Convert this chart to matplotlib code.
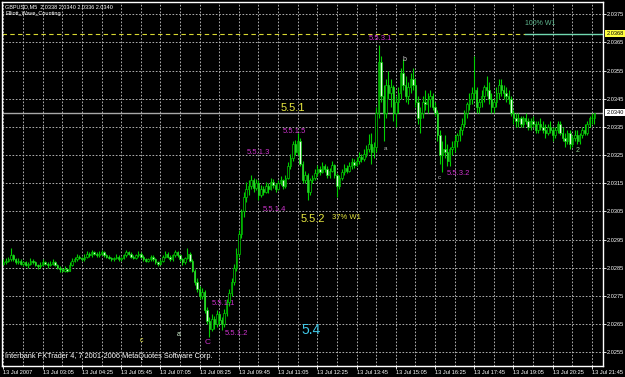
import matplotlib
matplotlib.use('Agg')
import matplotlib.pyplot as plt
import matplotlib.transforms as mtransforms
import numpy as np

plt.rcParams['font.family'] = ['Liberation Sans', 'DejaVu Sans']

# GBPUSD M5, prices given as pips above base
base = 2.0250
opens = [36.5, 37, 37.5, 38, 39.5, 38, 37, 37.5, 36.5, 37,
         36, 36.5, 37.5, 37, 36, 35.5, 36, 37, 36.5, 36,
         36.5, 37, 36, 35, 34.5, 34, 34.5, 34, 36, 37.5,
         38, 39, 38.5, 38, 39, 40, 39.5, 40.5, 40, 39.5,
         40, 40.5, 39.5, 39, 38.5, 38, 38.5, 39, 38, 38.5,
         39.5, 40.5, 40, 39, 38.5, 39.5, 40, 39, 38, 37.5,
         38, 39, 38, 37, 36.5, 37.5, 39, 40, 39, 38,
         39.5, 40.5, 39.5, 38, 37, 38.5, 40, 37.5, 34, 30,
         27.5, 25, 26.5, 20, 16, 13.5, 17, 15, 18.5, 16.5,
         15, 19, 23, 26, 30, 35, 40, 47, 55, 60,
         63, 64, 66, 63.5, 65, 61, 63, 62, 64, 63,
         65.5, 64.5, 63, 65, 66, 64, 67, 71, 74, 79,
         76, 80, 72, 66, 68, 62, 66, 67, 68.5, 70,
         69, 71, 70, 68, 69.5, 71.5, 68, 64, 67, 69,
         70.5, 69.5, 71, 72.5, 71.5, 73, 74.5, 73.5, 75.5, 77,
         79, 76, 78, 90, 108, 96, 90, 100, 97, 99,
         90, 94, 97, 104, 100, 96, 99, 102, 100, 94,
         88, 90, 94, 93, 95, 96, 92, 90, 82, 75,
         77, 76, 73, 77, 78, 80, 82, 84, 86, 90,
         93, 95, 97, 98, 92, 94, 96, 99, 98, 95,
         92, 94, 97, 100, 98, 97, 96, 95, 90, 88,
         87, 88, 86, 88, 87, 85, 87, 86, 84, 86,
         85, 84, 83, 85, 84, 82, 84, 86, 83, 81,
         80, 83, 79, 81, 82, 80, 82, 84, 83, 86,
         88, 88]
highs = [38, 38.5, 39, 42, 40, 38.5, 38.5, 38, 37.5, 37.5,
         37, 38.5, 38, 37.5, 36.5, 37, 38, 37.5, 37, 37.5,
         38, 37.5, 36.5, 35.5, 35, 35.5, 35, 37, 38.5, 39,
         40, 39.5, 39, 40, 41, 40.5, 41.5, 41, 40.5, 41,
         41.5, 41, 40, 39.5, 39, 39, 40, 39.5, 39, 40,
         41.5, 41, 40.5, 39.5, 40, 41, 40.5, 39.5, 38.5, 38.5,
         39.5, 39.5, 38.5, 37.5, 38, 39.5, 41, 40.5, 39.5, 40,
         41.5, 41, 40, 38.5, 39, 42, 40.5, 38, 34.5, 31.5,
         28.5, 28, 27, 21, 17.5, 18.5, 18, 20, 19.5, 17.5,
         20.5, 24, 27.5, 31.5, 36.5, 42, 48.5, 56, 62, 65.5,
         66, 68, 67, 66.5, 66, 64.5, 64, 65.5, 65, 67,
         66.5, 65, 66, 67.5, 66.5, 68, 72.5, 75.5, 80, 80.5,
         83, 81, 73, 69.5, 68.5, 67, 68, 70, 71.5, 71,
         72.5, 72, 71, 70.5, 73, 72, 68.5, 68, 70, 72,
         71.5, 72.5, 74, 73.5, 74.5, 76, 75.5, 77, 78.5, 82.5,
         83, 79.5, 92, 114, 110, 100, 102, 105, 102, 100,
         96, 99, 106, 109, 103, 101, 104, 106, 102, 96,
         92, 96, 98, 97, 98, 97, 94, 91, 84, 80,
         82, 79, 78, 80, 82, 83, 85, 88, 91, 94,
         97, 99, 110, 99, 95, 98, 100, 103, 101, 97,
         95, 99, 102, 102, 100, 99, 98, 96, 91, 90,
         90, 89, 89, 90, 88, 88, 89, 87, 87, 88,
         87, 86, 86, 87, 85, 85, 87, 87, 85, 83,
         84, 84, 82, 84, 84, 83, 85, 86, 87, 89,
         90, 90]
lows = [36, 36.5, 37, 37.5, 37.5, 36.5, 36.5, 36, 35.5, 35.5,
        35, 36, 36.5, 35.5, 34.5, 35, 35.5, 36, 35, 35.5,
        36, 35.5, 34.5, 33.5, 33.5, 33.5, 33.5, 34, 35.5, 37,
        37.5, 38, 37.5, 37.5, 38.5, 39, 39, 39.5, 39, 39,
        39.5, 39, 38.5, 38, 37.5, 37.5, 38, 37.5, 37.5, 38,
        39, 39.5, 38.5, 38, 38, 39, 38.5, 37.5, 37, 37,
        37.5, 37.5, 36.5, 35.5, 36, 37, 38.5, 38.5, 37.5, 37.5,
        39, 39, 37.5, 36, 36.5, 38, 37, 33.5, 29, 26.5,
        24, 24, 19, 15, 10.5, 12.5, 13.5, 14, 15, 13,
        14, 18, 21.5, 25, 29, 34, 39, 45.5, 53, 58.5,
        61, 63, 62, 62.5, 59, 60, 61, 61.5, 61.5, 62.5,
        63.5, 62, 62.5, 64.5, 63, 63.5, 66.5, 70, 73, 75,
        75, 71, 65, 65, 59, 61, 65, 66, 67.5, 68,
        68.5, 69, 67, 67, 69, 67, 60, 63, 66, 68,
        68.5, 69, 70, 70.5, 71, 72, 72.5, 73, 74.5, 76,
        72, 74, 76, 88, 94, 80, 88, 95, 92, 87,
        85, 90, 95, 98, 94, 93, 97, 98, 92, 86,
        83, 88, 91, 90, 92, 91, 89, 80, 72, 69,
        74, 71, 71, 75, 76, 78, 80, 82, 85, 88,
        91, 93, 95, 90, 90, 92, 94, 96, 93, 90,
        90, 92, 95, 96, 95, 94, 93, 89, 86, 85,
        85, 85, 85, 86, 84, 84, 85, 83, 83, 84,
        83, 81, 82, 83, 80, 81, 83, 82, 80, 78,
        79, 77, 78, 80, 79, 79, 81, 82, 82, 85,
        86, 86]
closes = [37, 37.5, 38, 39.5, 38, 37, 37.5, 36.5, 37, 36,
          36.5, 37.5, 37, 36, 35.5, 36, 37, 36.5, 36, 36.5,
          37, 36, 35, 34.5, 34, 34.5, 34, 36, 37.5, 38,
          39, 38.5, 38, 39, 40, 39.5, 40.5, 40, 39.5, 40,
          40.5, 39.5, 39, 38.5, 38, 38.5, 39, 38, 38.5, 39.5,
          40.5, 40, 39, 38.5, 39.5, 40, 39, 38, 37.5, 38,
          39, 38, 37, 36.5, 37.5, 39, 40, 39, 38, 39.5,
          40.5, 39.5, 38, 37, 38.5, 40, 37.5, 34, 30, 27.5,
          25, 26.5, 20, 16, 13.5, 17, 15, 18.5, 16.5, 15,
          19, 23, 26, 30, 35, 40, 47, 55, 60, 63,
          64, 66, 63.5, 65, 61, 63, 62, 64, 63, 65.5,
          64.5, 63, 65, 66, 64, 67, 71, 74, 79, 76,
          80, 72, 66, 68, 62, 66, 67, 68.5, 70, 69,
          71, 70, 68, 69.5, 71.5, 68, 64, 67, 69, 70.5,
          69.5, 71, 72.5, 71.5, 73, 74.5, 73.5, 75.5, 77, 79,
          76, 78, 90, 108, 96, 90, 100, 97, 99, 90,
          94, 97, 104, 100, 96, 99, 102, 100, 94, 88,
          90, 94, 93, 95, 96, 92, 90, 82, 75, 77,
          76, 73, 77, 78, 80, 82, 84, 86, 90, 93,
          95, 97, 98, 92, 94, 96, 99, 98, 95, 92,
          94, 97, 100, 98, 97, 96, 95, 90, 88, 87,
          88, 86, 88, 87, 85, 87, 86, 84, 86, 85,
          84, 83, 85, 84, 82, 84, 86, 83, 81, 80,
          83, 79, 81, 82, 80, 82, 84, 83, 86, 88,
          88, 90]

date_labels = ['13 Jul 2007', '13 Jul 03:05', '13 Jul 04:25', '13 Jul 05:45',
               '13 Jul 07:05', '13 Jul 08:25', '13 Jul 09:45', '13 Jul 11:05',
               '13 Jul 12:25', '13 Jul 13:45', '13 Jul 15:05', '13 Jul 16:25',
               '13 Jul 17:45', '13 Jul 19:05', '13 Jul 20:25', '13 Jul 21:45']
price_ticks = [2.0255, 2.0265, 2.0275, 2.0285, 2.0295, 2.0305, 2.0315,
               2.0325, 2.0335, 2.0345, 2.0355, 2.0365, 2.0375]
w1_level = 2.0368
bid_level = 2.0340

o = base + np.array(opens) / 1e4
h = base + np.array(highs) / 1e4
l = base + np.array(lows) / 1e4
c = base + np.array(closes) / 1e4
x = np.arange(len(opens))

fig = plt.figure(figsize=(6.25, 3.77), dpi=100, facecolor='black')
ax = fig.add_axes([2/625, 11/377, 601/625, 364/377], facecolor='black')

lime = '#00d000'
ax.vlines(x, l, h, color=lime, lw=0.8, zorder=3)
up = c >= o
ax.bar(x[up], c[up] - o[up], bottom=o[up], width=0.6, color='black',
       edgecolor=lime, linewidth=0.5, zorder=4)
ax.bar(x[~up], o[~up] - c[~up], bottom=c[~up], width=0.6, color='#e0ffe0',
       edgecolor=lime, linewidth=0.5, zorder=4)

ax.set_xlim(-0.6, 244.5)
ax.set_ylim(2.02502, 2.03793)

# grid
ax.set_xticks(np.arange(0, 241, 16))
ax.set_xticks(np.arange(8, 241, 16), minor=True)
ax.set_xticklabels(date_labels)
ax.set_yticks(price_ticks)
ax.set_yticklabels(['%.4f' % p for p in price_ticks])
ax.yaxis.tick_right()
ax.grid(True, which='both', axis='x', color='#c8c8c8', ls=(0, (2, 2)), lw=0.6)
ax.grid(True, which='major', axis='y', color='#c8c8c8', ls=(0, (2, 2)), lw=0.6)
ax.set_axisbelow(True)
ax.tick_params(axis='both', colors='white', labelsize=4.1, length=2, pad=1, width=0.6)
ax.tick_params(axis='x', which='minor', length=0)
for t in ax.get_xticklabels():
    t.set_horizontalalignment('left')
for s in ax.spines.values():
    s.set_color('white')
    s.set_linewidth(1)

# levels
ax.plot([-0.6, 212.6], [w1_level, w1_level], color='#d8d830', lw=0.8, ls=(0, (4, 3)), zorder=2)
ax.plot([212.6, 244.5], [w1_level, w1_level], color='#70d8b0', lw=1, zorder=2)
ax.axhline(bid_level, color='#a8a8a8', lw=1, zorder=2)
tr = mtransforms.blended_transform_factory(ax.transAxes, ax.transData)
ax.text(1.006, w1_level, '%.4f' % w1_level, transform=tr, fontsize=4.1, color='black',
        va='center', ha='left', bbox=dict(facecolor='#ffff40', edgecolor='none', pad=0.8))
ax.text(1.006, bid_level, '%.4f' % bid_level, transform=tr, fontsize=4.1, color='black',
        va='center', ha='left', bbox=dict(facecolor='white', edgecolor='none', pad=0.8))

# wave labels
mag = '#cc33cc'
yel = '#e8e840'
notes = [('5.5.1', 118.2, 2.03417, yel, 8), ('5.5.1.5', 118.6, 2.03333, mag, 5.5),
         ('5.5.1.3', 103.9, 2.03258, mag, 5.5), ('5.5.1.4', 110.4, 2.03056, mag, 5.5),
         ('5.5.2', 126.3, 2.03023, yel, 8), ('37% W1', 139.8, 2.03030, yel, 5.5),
         ('5.5.1.1', 89.6, 2.02722, mag, 5.5), ('5.5.1.2', 95.0, 2.02619, mag, 5.5),
         ('C', 83.1, 2.02584, mag, 6), ('5.4', 125.5, 2.02630, '#40c8e8', 10),
         ('5.5.3.1', 153.6, 2.03662, mag, 5.5), ('5.5.3.2', 185.4, 2.03183, mag, 5.5),
         ('b', 163.4, 2.03590, '#d0d0d0', 5), ('a', 155.7, 2.03275, '#b0b0b0', 4.5),
         ('c', 177.7, 2.03172, '#b0b0b0', 4.5), ('2', 234.3, 2.03268, '#90d090', 5),
         ('c', 56.2, 2.02594, yel, 5), ('a', 71.3, 2.02615, '#d0f0d0', 5),
         ('100% W1', 218.8, 2.03718, '#60b890', 5)]
for txt, bx, py, col, fs in notes:
    ax.text(bx, py, txt, color=col, fontsize=fs, ha='center', va='center', zorder=6)

fig.text(5/625, 1 - 7/377, 'GBPUSD,M5  2.0338 2.0340 2.0336 2.0340', color='white',
         fontsize=4, va='center', ha='left')
fig.text(5/625, 1 - 14/377, 'Elliott_Wave_Counting', color='white',
         fontsize=4, va='center', ha='left')
fig.text(5/625, 1 - 357/377, 'Interbank FXTrader 4, 7 2001-2006 MetaQuotes Software Corp.',
         color='white', fontsize=5.3, va='center', ha='left')

fig.savefig('out.png', dpi=100, facecolor='black')
